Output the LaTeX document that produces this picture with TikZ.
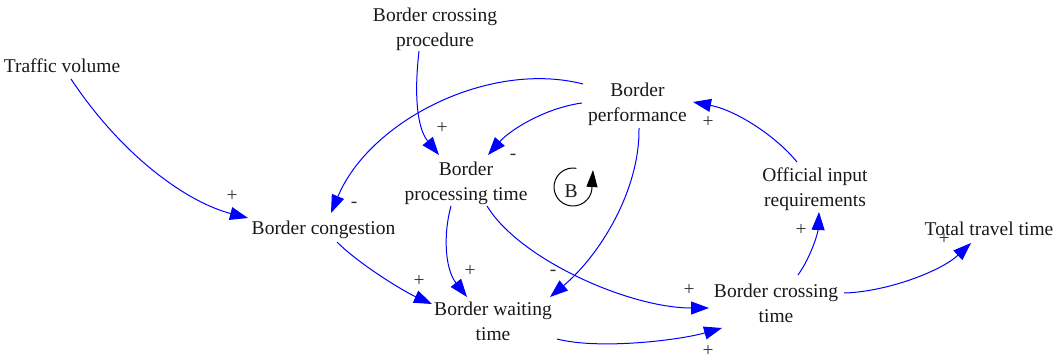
\documentclass[tikz,border=0pt]{standalone}
\usepackage{fontspec}
\setmainfont{Liberation Serif}
\usetikzlibrary{arrows.meta,calc}
\begin{document}
\begin{tikzpicture}[x=1pt,y=-1pt,
  var/.style={font=\fontsize{19.5}{25}\selectfont, align=center, inner sep=0pt, text=black!90},
  sgn/.style={font=\fontsize{19.5}{25}\selectfont, inner sep=0pt, text=black!80},
  link/.style={draw=blue, line width=1pt, -{Triangle[length=18pt,width=13pt]}, fill=none},
  loopar/.style={draw=black, line width=1pt, -{Triangle[length=17pt,width=11pt]}}
]
\useasboundingbox (0,0) rectangle (1055,360);
% variables
\node[var] (tv)    at (62,67)     {\strut Traffic volume};
\node[var] (bcp)   at (435,28.5)  {\strut Border crossing\\\strut procedure};
\node[var] (bp)    at (637.5,103.5) {\strut Border\\\strut performance};
\node[var] (bpt)   at (466,182.5) {\strut Border\\\strut processing time};
\node[var] (oir)   at (815,188.5) {\strut Official input\\\strut requirements};
\node[var] (bcong) at (323.5,229) {\strut Border congestion};
\node[var] (ttt)   at (989,230)   {\strut Total travel time};
\node[var] (bct)   at (776,304.5) {\strut Border crossing\\\strut time};
\node[var] (bwt)   at (493,322.5) {\strut Border waiting\\\strut time};
% links
\draw[link] ($(tv)+(9,12)$) .. controls (125,160) and (190,203) .. ($(bcong)+(-75.5,-11)$);
\draw[link] ($(bcp)+(-16,22.5)$) .. controls (414,95) and (417,128) .. ($(bpt)+(-27,-27.5)$);
\draw[link] ($(bp)+(-54.5,-19.5)$) .. controls (490,60) and (370,120) .. ($(bcong)+(7.5,-16)$);
\draw[link] ($(bp)+(-55.5,-0.5)$) .. controls (545,108) and (510,130) .. ($(bpt)+(22,-27.5)$);
\draw[link] ($(bp)+(1.5,24.5)$) .. controls (640,190) and (600,255) .. ($(bwt)+(57,-25.5)$);
\draw[link] ($(bpt)+(-15,23.5)$) .. controls (443,235) and (445,269) .. ($(bwt)+(-26,-25.5)$);
\draw[link] ($(bpt)+(21,23.5)$) .. controls (520,260) and (630,308) .. ($(bct)+(-67,3.5)$);
\draw[link] ($(bcong)+(13.5,13)$) .. controls (360,265) and (405,292) .. ($(bwt)+(-61,-18.5)$);
\draw[link] ($(bwt)+(64,16.5)$) .. controls (600,350) and (680,340) .. ($(bct)+(-54,23.5)$);
\draw[link] ($(bct)+(22,-29.5)$) .. controls (812,255) and (818,232) .. ($(oir)+(4,23.5)$);
\draw[link] ($(oir)+(-18,-26.5)$) .. controls (775,135) and (735,110) .. ($(bp)+(55.5,-1.5)$);
\draw[link] ($(bct)+(68,-11.5)$) .. controls (885,292) and (940,272) .. ($(ttt)+(-18,13)$);
% polarity signs
\node[sgn] (s1)  at (232,196) {+};
\node[sgn] (s2)  at (354,205) {-};
\node[sgn] (s3)  at (442,128) {+};
\node[sgn] (s4)  at (513,157) {-};
\node[sgn] (s5)  at (419,281) {+};
\node[sgn] (s6)  at (470,271) {+};
\node[sgn] (s7)  at (553,273) {-};
\node[sgn] (s8)  at (708,122) {+};
\node[sgn] (s9)  at (801,230) {+};
\node[sgn] (s10) at (689,290) {+};
\node[sgn] (s11) at (708,351) {+};
\node[sgn] (s12) at (944,239) {+};
% balancing loop marker
\node[var, anchor=base] (lb) at (571,197) {B};
\coordinate (lc) at (573,187);
\draw[loopar] ($(lc)+(3.3,-18.7)$) arc[start angle=-80, end angle=-360, radius=19] -- ++(1,-17);
\end{tikzpicture}
\end{document}
